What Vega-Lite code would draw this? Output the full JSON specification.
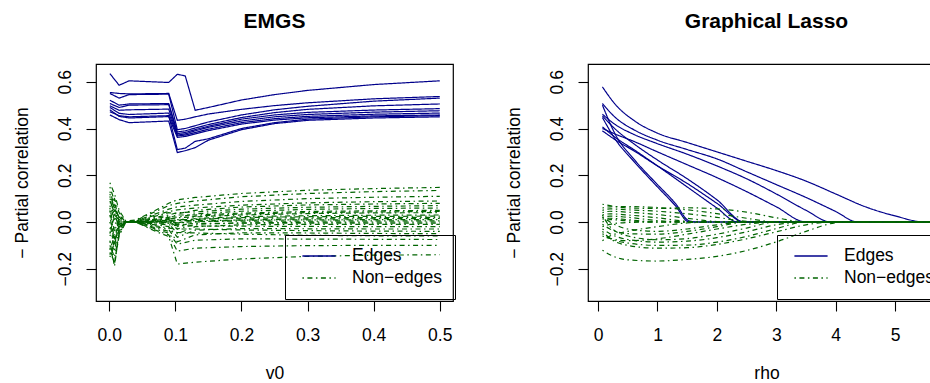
{
"$schema": "https://vega.github.io/schema/vega-lite/v6.json",
"background": "white",
"padding": {"left": 12, "top": 10, "right": 0, "bottom": 0},
"config": {
  "font": "Liberation Sans",
  "view": {"stroke": "black", "strokeWidth": 1.2},
  "axis": {"labelFont": "Liberation Sans", "titleFont": "Liberation Sans", "labelFontSize": 17.5, "titleFontSize": 17.5, "titleFontWeight": "normal", "labelColor": "black", "titleColor": "black", "tickColor": "black", "tickSize": 10, "tickWidth": 1.1, "domain": false, "grid": false, "labelFlush": false, "labelOverlap": false},
  "axisY": {"labelAngle": -90, "labelAlign": "center", "labelBaseline": "middle", "labelPadding": 21, "titlePadding": 25},
  "axisX": {"labelPadding": 15, "titlePadding": 21},
  "title": {"fontSize": 21, "fontWeight": "bold", "font": "Liberation Sans", "color": "black", "frame": "group", "baseline": "alphabetic", "offset": 32},
  "legend": {"orient": "none", "legendX": 189, "legendY": 171, "strokeColor": "black", "padding": 12, "symbolOffset": 13, "labelFont": "Liberation Sans", "labelFontSize": 17.5, "labelColor": "black", "symbolType": "M-2,0H2", "symbolSize": 275, "symbolStrokeWidth": 1.3, "labelOffset": 24, "rowPadding": 4},
  "concat": {"spacing": 47}
},
"datasets": {
"emgs": [
{"s":"E1","t":"Edges","x":0.001,"y":0.635},{"s":"E1","t":"Edges","x":0.015,"y":0.585},{"s":"E1","t":"Edges","x":0.03,"y":0.604},{"s":"E1","t":"Edges","x":0.09,"y":0.597},{"s":"E1","t":"Edges","x":0.103,"y":0.632},{"s":"E1","t":"Edges","x":0.115,"y":0.625},{"s":"E1","t":"Edges","x":0.13,"y":0.478},{"s":"E1","t":"Edges","x":0.15,"y":0.49},{"s":"E1","t":"Edges","x":0.2,"y":0.522},{"s":"E1","t":"Edges","x":0.25,"y":0.545},{"s":"E1","t":"Edges","x":0.3,"y":0.563},{"s":"E1","t":"Edges","x":0.4,"y":0.588},{"s":"E1","t":"Edges","x":0.5,"y":0.604},
{"s":"E2","t":"Edges","x":0.001,"y":0.554},{"s":"E2","t":"Edges","x":0.015,"y":0.55},{"s":"E2","t":"Edges","x":0.03,"y":0.548},{"s":"E2","t":"Edges","x":0.09,"y":0.55},{"s":"E2","t":"Edges","x":0.103,"y":0.435},{"s":"E2","t":"Edges","x":0.115,"y":0.44},{"s":"E2","t":"Edges","x":0.13,"y":0.45},{"s":"E2","t":"Edges","x":0.15,"y":0.462},{"s":"E2","t":"Edges","x":0.2,"y":0.482},{"s":"E2","t":"Edges","x":0.25,"y":0.498},{"s":"E2","t":"Edges","x":0.3,"y":0.51},{"s":"E2","t":"Edges","x":0.4,"y":0.527},{"s":"E2","t":"Edges","x":0.5,"y":0.537},
{"s":"E3","t":"Edges","x":0.001,"y":0.55},{"s":"E3","t":"Edges","x":0.015,"y":0.53},{"s":"E3","t":"Edges","x":0.03,"y":0.545},{"s":"E3","t":"Edges","x":0.09,"y":0.547},{"s":"E3","t":"Edges","x":0.103,"y":0.395},{"s":"E3","t":"Edges","x":0.115,"y":0.4},{"s":"E3","t":"Edges","x":0.13,"y":0.412},{"s":"E3","t":"Edges","x":0.15,"y":0.428},{"s":"E3","t":"Edges","x":0.2,"y":0.458},{"s":"E3","t":"Edges","x":0.25,"y":0.48},{"s":"E3","t":"Edges","x":0.3,"y":0.495},{"s":"E3","t":"Edges","x":0.4,"y":0.517},{"s":"E3","t":"Edges","x":0.5,"y":0.53},
{"s":"E4","t":"Edges","x":0.001,"y":0.521},{"s":"E4","t":"Edges","x":0.015,"y":0.5},{"s":"E4","t":"Edges","x":0.03,"y":0.505},{"s":"E4","t":"Edges","x":0.09,"y":0.507},{"s":"E4","t":"Edges","x":0.103,"y":0.385},{"s":"E4","t":"Edges","x":0.115,"y":0.39},{"s":"E4","t":"Edges","x":0.13,"y":0.402},{"s":"E4","t":"Edges","x":0.15,"y":0.417},{"s":"E4","t":"Edges","x":0.2,"y":0.447},{"s":"E4","t":"Edges","x":0.25,"y":0.468},{"s":"E4","t":"Edges","x":0.3,"y":0.482},{"s":"E4","t":"Edges","x":0.4,"y":0.497},{"s":"E4","t":"Edges","x":0.5,"y":0.505},
{"s":"E5","t":"Edges","x":0.001,"y":0.507},{"s":"E5","t":"Edges","x":0.015,"y":0.49},{"s":"E5","t":"Edges","x":0.03,"y":0.5},{"s":"E5","t":"Edges","x":0.09,"y":0.502},{"s":"E5","t":"Edges","x":0.103,"y":0.378},{"s":"E5","t":"Edges","x":0.115,"y":0.383},{"s":"E5","t":"Edges","x":0.13,"y":0.395},{"s":"E5","t":"Edges","x":0.15,"y":0.41},{"s":"E5","t":"Edges","x":0.2,"y":0.44},{"s":"E5","t":"Edges","x":0.25,"y":0.458},{"s":"E5","t":"Edges","x":0.3,"y":0.469},{"s":"E5","t":"Edges","x":0.4,"y":0.479},{"s":"E5","t":"Edges","x":0.5,"y":0.485},
{"s":"E6","t":"Edges","x":0.001,"y":0.497},{"s":"E6","t":"Edges","x":0.015,"y":0.478},{"s":"E6","t":"Edges","x":0.03,"y":0.48},{"s":"E6","t":"Edges","x":0.09,"y":0.483},{"s":"E6","t":"Edges","x":0.103,"y":0.372},{"s":"E6","t":"Edges","x":0.115,"y":0.377},{"s":"E6","t":"Edges","x":0.13,"y":0.39},{"s":"E6","t":"Edges","x":0.15,"y":0.405},{"s":"E6","t":"Edges","x":0.2,"y":0.432},{"s":"E6","t":"Edges","x":0.25,"y":0.45},{"s":"E6","t":"Edges","x":0.3,"y":0.46},{"s":"E6","t":"Edges","x":0.4,"y":0.47},{"s":"E6","t":"Edges","x":0.5,"y":0.476},
{"s":"E7","t":"Edges","x":0.001,"y":0.49},{"s":"E7","t":"Edges","x":0.015,"y":0.465},{"s":"E7","t":"Edges","x":0.03,"y":0.46},{"s":"E7","t":"Edges","x":0.09,"y":0.466},{"s":"E7","t":"Edges","x":0.103,"y":0.368},{"s":"E7","t":"Edges","x":0.115,"y":0.372},{"s":"E7","t":"Edges","x":0.13,"y":0.383},{"s":"E7","t":"Edges","x":0.15,"y":0.397},{"s":"E7","t":"Edges","x":0.2,"y":0.425},{"s":"E7","t":"Edges","x":0.25,"y":0.442},{"s":"E7","t":"Edges","x":0.3,"y":0.452},{"s":"E7","t":"Edges","x":0.4,"y":0.461},{"s":"E7","t":"Edges","x":0.5,"y":0.466},
{"s":"E8","t":"Edges","x":0.001,"y":0.48},{"s":"E8","t":"Edges","x":0.015,"y":0.452},{"s":"E8","t":"Edges","x":0.03,"y":0.445},{"s":"E8","t":"Edges","x":0.09,"y":0.451},{"s":"E8","t":"Edges","x":0.103,"y":0.362},{"s":"E8","t":"Edges","x":0.115,"y":0.366},{"s":"E8","t":"Edges","x":0.13,"y":0.377},{"s":"E8","t":"Edges","x":0.15,"y":0.391},{"s":"E8","t":"Edges","x":0.2,"y":0.419},{"s":"E8","t":"Edges","x":0.25,"y":0.436},{"s":"E8","t":"Edges","x":0.3,"y":0.446},{"s":"E8","t":"Edges","x":0.4,"y":0.454},{"s":"E8","t":"Edges","x":0.5,"y":0.458},
{"s":"E9","t":"Edges","x":0.001,"y":0.458},{"s":"E9","t":"Edges","x":0.015,"y":0.438},{"s":"E9","t":"Edges","x":0.03,"y":0.425},{"s":"E9","t":"Edges","x":0.09,"y":0.432},{"s":"E9","t":"Edges","x":0.103,"y":0.297},{"s":"E9","t":"Edges","x":0.115,"y":0.305},{"s":"E9","t":"Edges","x":0.13,"y":0.318},{"s":"E9","t":"Edges","x":0.15,"y":0.35},{"s":"E9","t":"Edges","x":0.2,"y":0.395},{"s":"E9","t":"Edges","x":0.25,"y":0.421},{"s":"E9","t":"Edges","x":0.3,"y":0.435},{"s":"E9","t":"Edges","x":0.4,"y":0.445},{"s":"E9","t":"Edges","x":0.5,"y":0.45},
{"s":"E10","t":"Edges","x":0.001,"y":0.472},{"s":"E10","t":"Edges","x":0.015,"y":0.455},{"s":"E10","t":"Edges","x":0.03,"y":0.45},{"s":"E10","t":"Edges","x":0.09,"y":0.455},{"s":"E10","t":"Edges","x":0.103,"y":0.31},{"s":"E10","t":"Edges","x":0.115,"y":0.316},{"s":"E10","t":"Edges","x":0.13,"y":0.345},{"s":"E10","t":"Edges","x":0.15,"y":0.356},{"s":"E10","t":"Edges","x":0.2,"y":0.4},{"s":"E10","t":"Edges","x":0.25,"y":0.425},{"s":"E10","t":"Edges","x":0.3,"y":0.44},{"s":"E10","t":"Edges","x":0.4,"y":0.45},{"s":"E10","t":"Edges","x":0.5,"y":0.455},
{"s":"N1","t":"Non−edges","x":0.001,"y":0.168},{"s":"N1","t":"Non−edges","x":0.008,"y":0.12},{"s":"N1","t":"Non−edges","x":0.015,"y":0.05},{"s":"N1","t":"Non−edges","x":0.025,"y":0.005},{"s":"N1","t":"Non−edges","x":0.04,"y":0.008},{"s":"N1","t":"Non−edges","x":0.07,"y":0.05},{"s":"N1","t":"Non−edges","x":0.09,"y":0.08},{"s":"N1","t":"Non−edges","x":0.103,"y":0.095},{"s":"N1","t":"Non−edges","x":0.13,"y":0.105},{"s":"N1","t":"Non−edges","x":0.2,"y":0.122},{"s":"N1","t":"Non−edges","x":0.3,"y":0.136},{"s":"N1","t":"Non−edges","x":0.4,"y":0.143},{"s":"N1","t":"Non−edges","x":0.5,"y":0.148},
{"s":"N2","t":"Non−edges","x":0.001,"y":-0.05},{"s":"N2","t":"Non−edges","x":0.008,"y":0.03},{"s":"N2","t":"Non−edges","x":0.015,"y":0.01},{"s":"N2","t":"Non−edges","x":0.025,"y":0.0},{"s":"N2","t":"Non−edges","x":0.04,"y":0.006},{"s":"N2","t":"Non−edges","x":0.07,"y":0.045},{"s":"N2","t":"Non−edges","x":0.09,"y":0.07},{"s":"N2","t":"Non−edges","x":0.103,"y":0.08},{"s":"N2","t":"Non−edges","x":0.13,"y":0.09},{"s":"N2","t":"Non−edges","x":0.2,"y":0.108},{"s":"N2","t":"Non−edges","x":0.3,"y":0.122},{"s":"N2","t":"Non−edges","x":0.4,"y":0.13},{"s":"N2","t":"Non−edges","x":0.5,"y":0.135},
{"s":"N3","t":"Non−edges","x":0.001,"y":0.1},{"s":"N3","t":"Non−edges","x":0.008,"y":0.06},{"s":"N3","t":"Non−edges","x":0.015,"y":0.02},{"s":"N3","t":"Non−edges","x":0.025,"y":0.0},{"s":"N3","t":"Non−edges","x":0.04,"y":0.004},{"s":"N3","t":"Non−edges","x":0.07,"y":0.035},{"s":"N3","t":"Non−edges","x":0.09,"y":0.055},{"s":"N3","t":"Non−edges","x":0.103,"y":0.065},{"s":"N3","t":"Non−edges","x":0.13,"y":0.072},{"s":"N3","t":"Non−edges","x":0.2,"y":0.088},{"s":"N3","t":"Non−edges","x":0.3,"y":0.1},{"s":"N3","t":"Non−edges","x":0.4,"y":0.106},{"s":"N3","t":"Non−edges","x":0.5,"y":0.11},
{"s":"N4","t":"Non−edges","x":0.001,"y":-0.12},{"s":"N4","t":"Non−edges","x":0.008,"y":-0.06},{"s":"N4","t":"Non−edges","x":0.015,"y":-0.01},{"s":"N4","t":"Non−edges","x":0.025,"y":0.0},{"s":"N4","t":"Non−edges","x":0.04,"y":0.003},{"s":"N4","t":"Non−edges","x":0.07,"y":0.03},{"s":"N4","t":"Non−edges","x":0.09,"y":0.045},{"s":"N4","t":"Non−edges","x":0.103,"y":0.052},{"s":"N4","t":"Non−edges","x":0.13,"y":0.06},{"s":"N4","t":"Non−edges","x":0.2,"y":0.072},{"s":"N4","t":"Non−edges","x":0.3,"y":0.082},{"s":"N4","t":"Non−edges","x":0.4,"y":0.087},{"s":"N4","t":"Non−edges","x":0.5,"y":0.09},
{"s":"N5","t":"Non−edges","x":0.001,"y":0.13},{"s":"N5","t":"Non−edges","x":0.008,"y":0.07},{"s":"N5","t":"Non−edges","x":0.015,"y":-0.02},{"s":"N5","t":"Non−edges","x":0.025,"y":0.0},{"s":"N5","t":"Non−edges","x":0.04,"y":0.002},{"s":"N5","t":"Non−edges","x":0.07,"y":0.025},{"s":"N5","t":"Non−edges","x":0.09,"y":0.04},{"s":"N5","t":"Non−edges","x":0.103,"y":0.035},{"s":"N5","t":"Non−edges","x":0.13,"y":0.05},{"s":"N5","t":"Non−edges","x":0.2,"y":0.064},{"s":"N5","t":"Non−edges","x":0.3,"y":0.073},{"s":"N5","t":"Non−edges","x":0.4,"y":0.077},{"s":"N5","t":"Non−edges","x":0.5,"y":0.08},
{"s":"N6","t":"Non−edges","x":0.001,"y":0.05},{"s":"N6","t":"Non−edges","x":0.008,"y":-0.08},{"s":"N6","t":"Non−edges","x":0.015,"y":-0.03},{"s":"N6","t":"Non−edges","x":0.025,"y":0.0},{"s":"N6","t":"Non−edges","x":0.04,"y":0.002},{"s":"N6","t":"Non−edges","x":0.07,"y":0.02},{"s":"N6","t":"Non−edges","x":0.09,"y":0.03},{"s":"N6","t":"Non−edges","x":0.103,"y":0.04},{"s":"N6","t":"Non−edges","x":0.13,"y":0.043},{"s":"N6","t":"Non−edges","x":0.2,"y":0.055},{"s":"N6","t":"Non−edges","x":0.3,"y":0.063},{"s":"N6","t":"Non−edges","x":0.4,"y":0.067},{"s":"N6","t":"Non−edges","x":0.5,"y":0.07},
{"s":"N7","t":"Non−edges","x":0.001,"y":-0.15},{"s":"N7","t":"Non−edges","x":0.008,"y":-0.1},{"s":"N7","t":"Non−edges","x":0.015,"y":0.03},{"s":"N7","t":"Non−edges","x":0.025,"y":0.0},{"s":"N7","t":"Non−edges","x":0.04,"y":0.0},{"s":"N7","t":"Non−edges","x":0.07,"y":0.015},{"s":"N7","t":"Non−edges","x":0.09,"y":0.025},{"s":"N7","t":"Non−edges","x":0.103,"y":0.02},{"s":"N7","t":"Non−edges","x":0.13,"y":0.035},{"s":"N7","t":"Non−edges","x":0.2,"y":0.046},{"s":"N7","t":"Non−edges","x":0.3,"y":0.054},{"s":"N7","t":"Non−edges","x":0.4,"y":0.058},{"s":"N7","t":"Non−edges","x":0.5,"y":0.06},
{"s":"N8","t":"Non−edges","x":0.001,"y":0.08},{"s":"N8","t":"Non−edges","x":0.008,"y":0.1},{"s":"N8","t":"Non−edges","x":0.015,"y":0.04},{"s":"N8","t":"Non−edges","x":0.025,"y":0.002},{"s":"N8","t":"Non−edges","x":0.04,"y":0.0},{"s":"N8","t":"Non−edges","x":0.07,"y":0.012},{"s":"N8","t":"Non−edges","x":0.09,"y":0.02},{"s":"N8","t":"Non−edges","x":0.103,"y":0.03},{"s":"N8","t":"Non−edges","x":0.13,"y":0.03},{"s":"N8","t":"Non−edges","x":0.2,"y":0.038},{"s":"N8","t":"Non−edges","x":0.3,"y":0.045},{"s":"N8","t":"Non−edges","x":0.4,"y":0.048},{"s":"N8","t":"Non−edges","x":0.5,"y":0.05},
{"s":"N9","t":"Non−edges","x":0.001,"y":-0.08},{"s":"N9","t":"Non−edges","x":0.008,"y":-0.19},{"s":"N9","t":"Non−edges","x":0.015,"y":-0.04},{"s":"N9","t":"Non−edges","x":0.025,"y":0.0},{"s":"N9","t":"Non−edges","x":0.04,"y":0.0},{"s":"N9","t":"Non−edges","x":0.07,"y":0.01},{"s":"N9","t":"Non−edges","x":0.09,"y":0.015},{"s":"N9","t":"Non−edges","x":0.103,"y":0.005},{"s":"N9","t":"Non−edges","x":0.13,"y":0.025},{"s":"N9","t":"Non−edges","x":0.2,"y":0.034},{"s":"N9","t":"Non−edges","x":0.3,"y":0.04},{"s":"N9","t":"Non−edges","x":0.4,"y":0.043},{"s":"N9","t":"Non−edges","x":0.5,"y":0.045},
{"s":"N10","t":"Non−edges","x":0.001,"y":0.02},{"s":"N10","t":"Non−edges","x":0.008,"y":0.05},{"s":"N10","t":"Non−edges","x":0.015,"y":0.0},{"s":"N10","t":"Non−edges","x":0.025,"y":0.0},{"s":"N10","t":"Non−edges","x":0.04,"y":0.001},{"s":"N10","t":"Non−edges","x":0.07,"y":0.008},{"s":"N10","t":"Non−edges","x":0.09,"y":0.012},{"s":"N10","t":"Non−edges","x":0.103,"y":0.018},{"s":"N10","t":"Non−edges","x":0.13,"y":0.022},{"s":"N10","t":"Non−edges","x":0.2,"y":0.03},{"s":"N10","t":"Non−edges","x":0.3,"y":0.036},{"s":"N10","t":"Non−edges","x":0.4,"y":0.039},{"s":"N10","t":"Non−edges","x":0.5,"y":0.04},
{"s":"N11","t":"Non−edges","x":0.001,"y":0.06},{"s":"N11","t":"Non−edges","x":0.008,"y":-0.04},{"s":"N11","t":"Non−edges","x":0.015,"y":0.02},{"s":"N11","t":"Non−edges","x":0.025,"y":0.0},{"s":"N11","t":"Non−edges","x":0.04,"y":0.0},{"s":"N11","t":"Non−edges","x":0.07,"y":0.006},{"s":"N11","t":"Non−edges","x":0.09,"y":0.01},{"s":"N11","t":"Non−edges","x":0.103,"y":-0.005},{"s":"N11","t":"Non−edges","x":0.13,"y":0.015},{"s":"N11","t":"Non−edges","x":0.2,"y":0.023},{"s":"N11","t":"Non−edges","x":0.3,"y":0.027},{"s":"N11","t":"Non−edges","x":0.4,"y":0.029},{"s":"N11","t":"Non−edges","x":0.5,"y":0.03},
{"s":"N12","t":"Non−edges","x":0.001,"y":-0.1},{"s":"N12","t":"Non−edges","x":0.008,"y":-0.15},{"s":"N12","t":"Non−edges","x":0.015,"y":-0.05},{"s":"N12","t":"Non−edges","x":0.025,"y":0.0},{"s":"N12","t":"Non−edges","x":0.04,"y":0.0},{"s":"N12","t":"Non−edges","x":0.07,"y":0.004},{"s":"N12","t":"Non−edges","x":0.09,"y":0.008},{"s":"N12","t":"Non−edges","x":0.103,"y":-0.01},{"s":"N12","t":"Non−edges","x":0.13,"y":0.012},{"s":"N12","t":"Non−edges","x":0.2,"y":0.019},{"s":"N12","t":"Non−edges","x":0.3,"y":0.023},{"s":"N12","t":"Non−edges","x":0.4,"y":0.024},{"s":"N12","t":"Non−edges","x":0.5,"y":0.025},
{"s":"N13","t":"Non−edges","x":0.001,"y":0.15},{"s":"N13","t":"Non−edges","x":0.008,"y":0.09},{"s":"N13","t":"Non−edges","x":0.015,"y":0.0},{"s":"N13","t":"Non−edges","x":0.025,"y":0.0},{"s":"N13","t":"Non−edges","x":0.04,"y":0.0},{"s":"N13","t":"Non−edges","x":0.07,"y":0.003},{"s":"N13","t":"Non−edges","x":0.09,"y":0.005},{"s":"N13","t":"Non−edges","x":0.103,"y":0.01},{"s":"N13","t":"Non−edges","x":0.13,"y":0.011},{"s":"N13","t":"Non−edges","x":0.2,"y":0.016},{"s":"N13","t":"Non−edges","x":0.3,"y":0.018},{"s":"N13","t":"Non−edges","x":0.4,"y":0.019},{"s":"N13","t":"Non−edges","x":0.5,"y":0.02},
{"s":"N14","t":"Non−edges","x":0.001,"y":-0.03},{"s":"N14","t":"Non−edges","x":0.008,"y":0.02},{"s":"N14","t":"Non−edges","x":0.015,"y":-0.01},{"s":"N14","t":"Non−edges","x":0.025,"y":0.0},{"s":"N14","t":"Non−edges","x":0.04,"y":0.0},{"s":"N14","t":"Non−edges","x":0.07,"y":0.002},{"s":"N14","t":"Non−edges","x":0.09,"y":0.004},{"s":"N14","t":"Non−edges","x":0.103,"y":-0.02},{"s":"N14","t":"Non−edges","x":0.13,"y":0.0},{"s":"N14","t":"Non−edges","x":0.2,"y":0.009},{"s":"N14","t":"Non−edges","x":0.3,"y":0.013},{"s":"N14","t":"Non−edges","x":0.4,"y":0.014},{"s":"N14","t":"Non−edges","x":0.5,"y":0.015},
{"s":"N15","t":"Non−edges","x":0.001,"y":0.11},{"s":"N15","t":"Non−edges","x":0.008,"y":0.0},{"s":"N15","t":"Non−edges","x":0.015,"y":-0.02},{"s":"N15","t":"Non−edges","x":0.025,"y":0.0},{"s":"N15","t":"Non−edges","x":0.04,"y":0.0},{"s":"N15","t":"Non−edges","x":0.07,"y":0.001},{"s":"N15","t":"Non−edges","x":0.09,"y":0.002},{"s":"N15","t":"Non−edges","x":0.103,"y":0.006},{"s":"N15","t":"Non−edges","x":0.13,"y":0.006},{"s":"N15","t":"Non−edges","x":0.2,"y":0.008},{"s":"N15","t":"Non−edges","x":0.3,"y":0.009},{"s":"N15","t":"Non−edges","x":0.4,"y":0.01},{"s":"N15","t":"Non−edges","x":0.5,"y":0.01},
{"s":"N16","t":"Non−edges","x":0.001,"y":-0.13},{"s":"N16","t":"Non−edges","x":0.008,"y":-0.17},{"s":"N16","t":"Non−edges","x":0.015,"y":-0.06},{"s":"N16","t":"Non−edges","x":0.025,"y":0.0},{"s":"N16","t":"Non−edges","x":0.04,"y":0.0},{"s":"N16","t":"Non−edges","x":0.07,"y":0.0},{"s":"N16","t":"Non−edges","x":0.09,"y":0.001},{"s":"N16","t":"Non−edges","x":0.103,"y":-0.004},{"s":"N16","t":"Non−edges","x":0.13,"y":0.002},{"s":"N16","t":"Non−edges","x":0.2,"y":0.004},{"s":"N16","t":"Non−edges","x":0.3,"y":0.004},{"s":"N16","t":"Non−edges","x":0.4,"y":0.005},{"s":"N16","t":"Non−edges","x":0.5,"y":0.005},
{"s":"N17","t":"Non−edges","x":0.001,"y":0.04},{"s":"N17","t":"Non−edges","x":0.008,"y":0.08},{"s":"N17","t":"Non−edges","x":0.015,"y":0.01},{"s":"N17","t":"Non−edges","x":0.025,"y":0.0},{"s":"N17","t":"Non−edges","x":0.04,"y":0.0},{"s":"N17","t":"Non−edges","x":0.07,"y":0.0},{"s":"N17","t":"Non−edges","x":0.09,"y":0.0},{"s":"N17","t":"Non−edges","x":0.103,"y":-0.03},{"s":"N17","t":"Non−edges","x":0.13,"y":-0.01},{"s":"N17","t":"Non−edges","x":0.2,"y":-0.004},{"s":"N17","t":"Non−edges","x":0.3,"y":-0.001},{"s":"N17","t":"Non−edges","x":0.4,"y":0.0},{"s":"N17","t":"Non−edges","x":0.5,"y":0.0},
{"s":"N18","t":"Non−edges","x":0.001,"y":-0.06},{"s":"N18","t":"Non−edges","x":0.008,"y":-0.02},{"s":"N18","t":"Non−edges","x":0.015,"y":0.0},{"s":"N18","t":"Non−edges","x":0.025,"y":0.0},{"s":"N18","t":"Non−edges","x":0.04,"y":0.0},{"s":"N18","t":"Non−edges","x":0.07,"y":-0.002},{"s":"N18","t":"Non−edges","x":0.09,"y":-0.003},{"s":"N18","t":"Non−edges","x":0.103,"y":-0.012},{"s":"N18","t":"Non−edges","x":0.13,"y":-0.006},{"s":"N18","t":"Non−edges","x":0.2,"y":-0.005},{"s":"N18","t":"Non−edges","x":0.3,"y":-0.005},{"s":"N18","t":"Non−edges","x":0.4,"y":-0.005},{"s":"N18","t":"Non−edges","x":0.5,"y":-0.005},
{"s":"N19","t":"Non−edges","x":0.001,"y":0.09},{"s":"N19","t":"Non−edges","x":0.008,"y":0.04},{"s":"N19","t":"Non−edges","x":0.015,"y":-0.03},{"s":"N19","t":"Non−edges","x":0.025,"y":0.0},{"s":"N19","t":"Non−edges","x":0.04,"y":0.0},{"s":"N19","t":"Non−edges","x":0.07,"y":-0.004},{"s":"N19","t":"Non−edges","x":0.09,"y":-0.006},{"s":"N19","t":"Non−edges","x":0.103,"y":-0.05},{"s":"N19","t":"Non−edges","x":0.13,"y":-0.02},{"s":"N19","t":"Non−edges","x":0.2,"y":-0.012},{"s":"N19","t":"Non−edges","x":0.3,"y":-0.01},{"s":"N19","t":"Non−edges","x":0.4,"y":-0.01},{"s":"N19","t":"Non−edges","x":0.5,"y":-0.01},
{"s":"N20","t":"Non−edges","x":0.001,"y":-0.14},{"s":"N20","t":"Non−edges","x":0.008,"y":-0.09},{"s":"N20","t":"Non−edges","x":0.015,"y":-0.02},{"s":"N20","t":"Non−edges","x":0.025,"y":0.0},{"s":"N20","t":"Non−edges","x":0.04,"y":0.0},{"s":"N20","t":"Non−edges","x":0.07,"y":-0.008},{"s":"N20","t":"Non−edges","x":0.09,"y":-0.012},{"s":"N20","t":"Non−edges","x":0.103,"y":-0.016},{"s":"N20","t":"Non−edges","x":0.13,"y":-0.017},{"s":"N20","t":"Non−edges","x":0.2,"y":-0.018},{"s":"N20","t":"Non−edges","x":0.3,"y":-0.019},{"s":"N20","t":"Non−edges","x":0.4,"y":-0.02},{"s":"N20","t":"Non−edges","x":0.5,"y":-0.02},
{"s":"N21","t":"Non−edges","x":0.001,"y":0.0},{"s":"N21","t":"Non−edges","x":0.008,"y":-0.12},{"s":"N21","t":"Non−edges","x":0.015,"y":-0.03},{"s":"N21","t":"Non−edges","x":0.025,"y":0.0},{"s":"N21","t":"Non−edges","x":0.04,"y":0.0},{"s":"N21","t":"Non−edges","x":0.07,"y":-0.012},{"s":"N21","t":"Non−edges","x":0.09,"y":-0.02},{"s":"N21","t":"Non−edges","x":0.103,"y":-0.065},{"s":"N21","t":"Non−edges","x":0.13,"y":-0.035},{"s":"N21","t":"Non−edges","x":0.2,"y":-0.028},{"s":"N21","t":"Non−edges","x":0.3,"y":-0.029},{"s":"N21","t":"Non−edges","x":0.4,"y":-0.03},{"s":"N21","t":"Non−edges","x":0.5,"y":-0.03},
{"s":"N22","t":"Non−edges","x":0.001,"y":-0.09},{"s":"N22","t":"Non−edges","x":0.008,"y":-0.05},{"s":"N22","t":"Non−edges","x":0.015,"y":0.0},{"s":"N22","t":"Non−edges","x":0.025,"y":0.0},{"s":"N22","t":"Non−edges","x":0.04,"y":0.0},{"s":"N22","t":"Non−edges","x":0.07,"y":-0.016},{"s":"N22","t":"Non−edges","x":0.09,"y":-0.026},{"s":"N22","t":"Non−edges","x":0.103,"y":-0.03},{"s":"N22","t":"Non−edges","x":0.13,"y":-0.03},{"s":"N22","t":"Non−edges","x":0.2,"y":-0.034},{"s":"N22","t":"Non−edges","x":0.3,"y":-0.037},{"s":"N22","t":"Non−edges","x":0.4,"y":-0.039},{"s":"N22","t":"Non−edges","x":0.5,"y":-0.04},
{"s":"N23","t":"Non−edges","x":0.001,"y":0.07},{"s":"N23","t":"Non−edges","x":0.008,"y":0.01},{"s":"N23","t":"Non−edges","x":0.015,"y":-0.01},{"s":"N23","t":"Non−edges","x":0.025,"y":0.0},{"s":"N23","t":"Non−edges","x":0.04,"y":0.0},{"s":"N23","t":"Non−edges","x":0.07,"y":-0.02},{"s":"N23","t":"Non−edges","x":0.09,"y":-0.032},{"s":"N23","t":"Non−edges","x":0.103,"y":-0.085},{"s":"N23","t":"Non−edges","x":0.13,"y":-0.055},{"s":"N23","t":"Non−edges","x":0.2,"y":-0.046},{"s":"N23","t":"Non−edges","x":0.3,"y":-0.047},{"s":"N23","t":"Non−edges","x":0.4,"y":-0.049},{"s":"N23","t":"Non−edges","x":0.5,"y":-0.05},
{"s":"N24","t":"Non−edges","x":0.001,"y":-0.11},{"s":"N24","t":"Non−edges","x":0.008,"y":-0.18},{"s":"N24","t":"Non−edges","x":0.015,"y":-0.05},{"s":"N24","t":"Non−edges","x":0.025,"y":0.0},{"s":"N24","t":"Non−edges","x":0.04,"y":0.0},{"s":"N24","t":"Non−edges","x":0.07,"y":-0.025},{"s":"N24","t":"Non−edges","x":0.09,"y":-0.04},{"s":"N24","t":"Non−edges","x":0.103,"y":-0.045},{"s":"N24","t":"Non−edges","x":0.13,"y":-0.047},{"s":"N24","t":"Non−edges","x":0.2,"y":-0.052},{"s":"N24","t":"Non−edges","x":0.3,"y":-0.057},{"s":"N24","t":"Non−edges","x":0.4,"y":-0.059},{"s":"N24","t":"Non−edges","x":0.5,"y":-0.06},
{"s":"N25","t":"Non−edges","x":0.001,"y":0.12},{"s":"N25","t":"Non−edges","x":0.008,"y":0.06},{"s":"N25","t":"Non−edges","x":0.015,"y":0.02},{"s":"N25","t":"Non−edges","x":0.025,"y":0.0},{"s":"N25","t":"Non−edges","x":0.04,"y":0.0},{"s":"N25","t":"Non−edges","x":0.07,"y":-0.03},{"s":"N25","t":"Non−edges","x":0.09,"y":-0.048},{"s":"N25","t":"Non−edges","x":0.103,"y":-0.095},{"s":"N25","t":"Non−edges","x":0.13,"y":-0.078},{"s":"N25","t":"Non−edges","x":0.2,"y":-0.072},{"s":"N25","t":"Non−edges","x":0.3,"y":-0.073},{"s":"N25","t":"Non−edges","x":0.4,"y":-0.074},{"s":"N25","t":"Non−edges","x":0.5,"y":-0.075},
{"s":"N26","t":"Non−edges","x":0.001,"y":-0.04},{"s":"N26","t":"Non−edges","x":0.008,"y":-0.07},{"s":"N26","t":"Non−edges","x":0.015,"y":-0.02},{"s":"N26","t":"Non−edges","x":0.025,"y":0.0},{"s":"N26","t":"Non−edges","x":0.04,"y":0.0},{"s":"N26","t":"Non−edges","x":0.07,"y":-0.035},{"s":"N26","t":"Non−edges","x":0.09,"y":-0.055},{"s":"N26","t":"Non−edges","x":0.103,"y":-0.125},{"s":"N26","t":"Non−edges","x":0.13,"y":-0.112},{"s":"N26","t":"Non−edges","x":0.2,"y":-0.105},{"s":"N26","t":"Non−edges","x":0.3,"y":-0.101},{"s":"N26","t":"Non−edges","x":0.4,"y":-0.1},{"s":"N26","t":"Non−edges","x":0.5,"y":-0.1},
{"s":"N27","t":"Non−edges","x":0.001,"y":0.03},{"s":"N27","t":"Non−edges","x":0.008,"y":-0.1},{"s":"N27","t":"Non−edges","x":0.015,"y":-0.01},{"s":"N27","t":"Non−edges","x":0.025,"y":0.0},{"s":"N27","t":"Non−edges","x":0.04,"y":0.0},{"s":"N27","t":"Non−edges","x":0.07,"y":-0.04},{"s":"N27","t":"Non−edges","x":0.09,"y":-0.062},{"s":"N27","t":"Non−edges","x":0.103,"y":-0.18},{"s":"N27","t":"Non−edges","x":0.13,"y":-0.172},{"s":"N27","t":"Non−edges","x":0.2,"y":-0.158},{"s":"N27","t":"Non−edges","x":0.3,"y":-0.147},{"s":"N27","t":"Non−edges","x":0.4,"y":-0.142},{"s":"N27","t":"Non−edges","x":0.5,"y":-0.14}
],
"glasso": [
{"s":"G1","t":"Edges","x":0.073,"y":0.578},{"s":"G1","t":"Edges","x":0.3,"y":0.5},{"s":"G1","t":"Edges","x":0.6,"y":0.435},{"s":"G1","t":"Edges","x":1.0,"y":0.38},{"s":"G1","t":"Edges","x":1.5,"y":0.34},{"s":"G1","t":"Edges","x":2.0,"y":0.3},{"s":"G1","t":"Edges","x":2.5,"y":0.26},{"s":"G1","t":"Edges","x":3.0,"y":0.22},{"s":"G1","t":"Edges","x":3.5,"y":0.175},{"s":"G1","t":"Edges","x":4.0,"y":0.12},{"s":"G1","t":"Edges","x":4.5,"y":0.065},{"s":"G1","t":"Edges","x":5.0,"y":0.026},{"s":"G1","t":"Edges","x":5.5,"y":0.0},{"s":"G1","t":"Edges","x":5.63,"y":0.0},
{"s":"G2","t":"Edges","x":0.073,"y":0.507},{"s":"G2","t":"Edges","x":0.3,"y":0.445},{"s":"G2","t":"Edges","x":0.6,"y":0.395},{"s":"G2","t":"Edges","x":1.0,"y":0.35},{"s":"G2","t":"Edges","x":1.5,"y":0.31},{"s":"G2","t":"Edges","x":2.0,"y":0.27},{"s":"G2","t":"Edges","x":2.5,"y":0.215},{"s":"G2","t":"Edges","x":3.0,"y":0.16},{"s":"G2","t":"Edges","x":3.5,"y":0.105},{"s":"G2","t":"Edges","x":4.0,"y":0.045},{"s":"G2","t":"Edges","x":4.37,"y":0.0},{"s":"G2","t":"Edges","x":5.63,"y":0.0},
{"s":"G3","t":"Edges","x":0.073,"y":0.461},{"s":"G3","t":"Edges","x":0.3,"y":0.415},{"s":"G3","t":"Edges","x":0.6,"y":0.375},{"s":"G3","t":"Edges","x":1.0,"y":0.335},{"s":"G3","t":"Edges","x":1.5,"y":0.29},{"s":"G3","t":"Edges","x":2.0,"y":0.24},{"s":"G3","t":"Edges","x":2.5,"y":0.185},{"s":"G3","t":"Edges","x":3.0,"y":0.12},{"s":"G3","t":"Edges","x":3.5,"y":0.05},{"s":"G3","t":"Edges","x":3.92,"y":0.0},{"s":"G3","t":"Edges","x":5.63,"y":0.0},
{"s":"G4","t":"Edges","x":0.073,"y":0.4},{"s":"G4","t":"Edges","x":0.3,"y":0.375},{"s":"G4","t":"Edges","x":0.6,"y":0.345},{"s":"G4","t":"Edges","x":1.0,"y":0.3},{"s":"G4","t":"Edges","x":1.5,"y":0.245},{"s":"G4","t":"Edges","x":2.0,"y":0.19},{"s":"G4","t":"Edges","x":2.5,"y":0.13},{"s":"G4","t":"Edges","x":3.0,"y":0.065},{"s":"G4","t":"Edges","x":3.5,"y":0.0},{"s":"G4","t":"Edges","x":5.63,"y":0.0},
{"s":"G5","t":"Edges","x":0.073,"y":0.454},{"s":"G5","t":"Edges","x":0.3,"y":0.395},{"s":"G5","t":"Edges","x":0.6,"y":0.335},{"s":"G5","t":"Edges","x":1.0,"y":0.265},{"s":"G5","t":"Edges","x":1.5,"y":0.185},{"s":"G5","t":"Edges","x":2.0,"y":0.095},{"s":"G5","t":"Edges","x":2.46,"y":0.0},{"s":"G5","t":"Edges","x":5.63,"y":0.0},
{"s":"G6","t":"Edges","x":0.073,"y":0.39},{"s":"G6","t":"Edges","x":0.3,"y":0.35},{"s":"G6","t":"Edges","x":0.6,"y":0.305},{"s":"G6","t":"Edges","x":1.0,"y":0.24},{"s":"G6","t":"Edges","x":1.5,"y":0.165},{"s":"G6","t":"Edges","x":2.0,"y":0.08},{"s":"G6","t":"Edges","x":2.46,"y":0.0},{"s":"G6","t":"Edges","x":5.63,"y":0.0},
{"s":"G7","t":"Edges","x":0.073,"y":0.447},{"s":"G7","t":"Edges","x":0.3,"y":0.35},{"s":"G7","t":"Edges","x":0.6,"y":0.26},{"s":"G7","t":"Edges","x":1.0,"y":0.15},{"s":"G7","t":"Edges","x":1.3,"y":0.07},{"s":"G7","t":"Edges","x":1.53,"y":0.0},{"s":"G7","t":"Edges","x":5.63,"y":0.0},
{"s":"G8","t":"Edges","x":0.073,"y":0.5},{"s":"G8","t":"Edges","x":0.3,"y":0.37},{"s":"G8","t":"Edges","x":0.6,"y":0.27},{"s":"G8","t":"Edges","x":1.0,"y":0.16},{"s":"G8","t":"Edges","x":1.3,"y":0.08},{"s":"G8","t":"Edges","x":1.53,"y":0.005},{"s":"G8","t":"Edges","x":1.65,"y":0.0},{"s":"G8","t":"Edges","x":5.63,"y":0.0},
{"s":"G9","t":"Edges","x":0.073,"y":0.407},{"s":"G9","t":"Edges","x":0.3,"y":0.36},{"s":"G9","t":"Edges","x":0.6,"y":0.31},{"s":"G9","t":"Edges","x":1.0,"y":0.24},{"s":"G9","t":"Edges","x":1.5,"y":0.15},{"s":"G9","t":"Edges","x":2.0,"y":0.06},{"s":"G9","t":"Edges","x":2.35,"y":0.0},{"s":"G9","t":"Edges","x":5.63,"y":0.0},
{"s":"P1","t":"Non−edges","x":0.073,"y":0.076},{"s":"P1","t":"Non−edges","x":0.2,"y":0.07},{"s":"P1","t":"Non−edges","x":0.5,"y":0.06},{"s":"P1","t":"Non−edges","x":1.0,"y":0.058},{"s":"P1","t":"Non−edges","x":1.5,"y":0.061},{"s":"P1","t":"Non−edges","x":2.0,"y":0.056},{"s":"P1","t":"Non−edges","x":2.5,"y":0.042},{"s":"P1","t":"Non−edges","x":3.0,"y":0.018},{"s":"P1","t":"Non−edges","x":3.5,"y":0.0},{"s":"P1","t":"Non−edges","x":5.63,"y":0.0},
{"s":"P2","t":"Non−edges","x":0.073,"y":0.06},{"s":"P2","t":"Non−edges","x":0.2,"y":0.065},{"s":"P2","t":"Non−edges","x":0.5,"y":0.066},{"s":"P2","t":"Non−edges","x":1.0,"y":0.062},{"s":"P2","t":"Non−edges","x":1.5,"y":0.052},{"s":"P2","t":"Non−edges","x":2.0,"y":0.036},{"s":"P2","t":"Non−edges","x":2.5,"y":0.016},{"s":"P2","t":"Non−edges","x":3.0,"y":0.0},{"s":"P2","t":"Non−edges","x":5.63,"y":0.0},
{"s":"P3","t":"Non−edges","x":0.073,"y":0.05},{"s":"P3","t":"Non−edges","x":0.2,"y":0.056},{"s":"P3","t":"Non−edges","x":0.5,"y":0.052},{"s":"P3","t":"Non−edges","x":1.0,"y":0.046},{"s":"P3","t":"Non−edges","x":1.5,"y":0.035},{"s":"P3","t":"Non−edges","x":2.0,"y":0.02},{"s":"P3","t":"Non−edges","x":2.5,"y":0.003},{"s":"P3","t":"Non−edges","x":3.0,"y":0.0},{"s":"P3","t":"Non−edges","x":5.63,"y":0.0},
{"s":"P4","t":"Non−edges","x":0.073,"y":0.04},{"s":"P4","t":"Non−edges","x":0.2,"y":0.046},{"s":"P4","t":"Non−edges","x":0.5,"y":0.042},{"s":"P4","t":"Non−edges","x":1.0,"y":0.032},{"s":"P4","t":"Non−edges","x":1.5,"y":0.016},{"s":"P4","t":"Non−edges","x":2.0,"y":0.002},{"s":"P4","t":"Non−edges","x":2.5,"y":0.0},{"s":"P4","t":"Non−edges","x":5.63,"y":0.0},
{"s":"P5","t":"Non−edges","x":0.073,"y":0.03},{"s":"P5","t":"Non−edges","x":0.2,"y":0.035},{"s":"P5","t":"Non−edges","x":0.5,"y":0.03},{"s":"P5","t":"Non−edges","x":1.0,"y":0.018},{"s":"P5","t":"Non−edges","x":1.5,"y":0.003},{"s":"P5","t":"Non−edges","x":2.0,"y":0.0},{"s":"P5","t":"Non−edges","x":5.63,"y":0.0},
{"s":"P6","t":"Non−edges","x":0.073,"y":0.02},{"s":"P6","t":"Non−edges","x":0.2,"y":0.025},{"s":"P6","t":"Non−edges","x":0.5,"y":0.02},{"s":"P6","t":"Non−edges","x":1.0,"y":0.006},{"s":"P6","t":"Non−edges","x":1.5,"y":0.0},{"s":"P6","t":"Non−edges","x":5.63,"y":0.0},
{"s":"P7","t":"Non−edges","x":0.073,"y":0.012},{"s":"P7","t":"Non−edges","x":0.2,"y":0.016},{"s":"P7","t":"Non−edges","x":0.5,"y":0.01},{"s":"P7","t":"Non−edges","x":1.0,"y":0.0},{"s":"P7","t":"Non−edges","x":5.63,"y":0.0},
{"s":"Z1","t":"Non−edges","x":0.073,"y":0.0},{"s":"Z1","t":"Non−edges","x":0.2,"y":0.01},{"s":"Z1","t":"Non−edges","x":0.5,"y":0.005},{"s":"Z1","t":"Non−edges","x":1.0,"y":0.0},{"s":"Z1","t":"Non−edges","x":5.63,"y":0.0},
{"s":"Z2","t":"Non−edges","x":0.073,"y":-0.02},{"s":"Z2","t":"Non−edges","x":0.2,"y":-0.01},{"s":"Z2","t":"Non−edges","x":0.5,"y":-0.002},{"s":"Z2","t":"Non−edges","x":1.0,"y":0.0},{"s":"Z2","t":"Non−edges","x":5.63,"y":0.0},
{"s":"M1","t":"Non−edges","x":0.073,"y":-0.121},{"s":"M1","t":"Non−edges","x":0.2,"y":-0.14},{"s":"M1","t":"Non−edges","x":0.5,"y":-0.162},{"s":"M1","t":"Non−edges","x":1.0,"y":-0.167},{"s":"M1","t":"Non−edges","x":1.5,"y":-0.16},{"s":"M1","t":"Non−edges","x":2.0,"y":-0.147},{"s":"M1","t":"Non−edges","x":2.5,"y":-0.122},{"s":"M1","t":"Non−edges","x":3.0,"y":-0.085},{"s":"M1","t":"Non−edges","x":3.5,"y":-0.04},{"s":"M1","t":"Non−edges","x":4.0,"y":-0.003},{"s":"M1","t":"Non−edges","x":4.2,"y":0.0},{"s":"M1","t":"Non−edges","x":5.63,"y":0.0},
{"s":"M2","t":"Non−edges","x":0.073,"y":-0.04},{"s":"M2","t":"Non−edges","x":0.2,"y":-0.07},{"s":"M2","t":"Non−edges","x":0.5,"y":-0.1},{"s":"M2","t":"Non−edges","x":1.0,"y":-0.112},{"s":"M2","t":"Non−edges","x":1.5,"y":-0.11},{"s":"M2","t":"Non−edges","x":2.0,"y":-0.096},{"s":"M2","t":"Non−edges","x":2.5,"y":-0.072},{"s":"M2","t":"Non−edges","x":3.0,"y":-0.042},{"s":"M2","t":"Non−edges","x":3.5,"y":-0.012},{"s":"M2","t":"Non−edges","x":4.0,"y":0.0},{"s":"M2","t":"Non−edges","x":5.63,"y":0.0},
{"s":"M3","t":"Non−edges","x":0.073,"y":-0.05},{"s":"M3","t":"Non−edges","x":0.2,"y":-0.07},{"s":"M3","t":"Non−edges","x":0.5,"y":-0.09},{"s":"M3","t":"Non−edges","x":1.0,"y":-0.1},{"s":"M3","t":"Non−edges","x":1.5,"y":-0.099},{"s":"M3","t":"Non−edges","x":2.0,"y":-0.086},{"s":"M3","t":"Non−edges","x":2.5,"y":-0.062},{"s":"M3","t":"Non−edges","x":3.0,"y":-0.028},{"s":"M3","t":"Non−edges","x":3.5,"y":0.0},{"s":"M3","t":"Non−edges","x":5.63,"y":0.0},
{"s":"M4","t":"Non−edges","x":0.073,"y":-0.03},{"s":"M4","t":"Non−edges","x":0.2,"y":-0.05},{"s":"M4","t":"Non−edges","x":0.5,"y":-0.075},{"s":"M4","t":"Non−edges","x":1.0,"y":-0.086},{"s":"M4","t":"Non−edges","x":1.5,"y":-0.082},{"s":"M4","t":"Non−edges","x":2.0,"y":-0.067},{"s":"M4","t":"Non−edges","x":2.5,"y":-0.042},{"s":"M4","t":"Non−edges","x":3.0,"y":-0.012},{"s":"M4","t":"Non−edges","x":3.5,"y":0.0},{"s":"M4","t":"Non−edges","x":5.63,"y":0.0},
{"s":"M5","t":"Non−edges","x":0.073,"y":0.03},{"s":"M5","t":"Non−edges","x":0.2,"y":-0.02},{"s":"M5","t":"Non−edges","x":0.5,"y":-0.06},{"s":"M5","t":"Non−edges","x":1.0,"y":-0.076},{"s":"M5","t":"Non−edges","x":1.5,"y":-0.071},{"s":"M5","t":"Non−edges","x":2.0,"y":-0.052},{"s":"M5","t":"Non−edges","x":2.5,"y":-0.026},{"s":"M5","t":"Non−edges","x":3.0,"y":0.0},{"s":"M5","t":"Non−edges","x":5.63,"y":0.0},
{"s":"M6","t":"Non−edges","x":0.073,"y":-0.06},{"s":"M6","t":"Non−edges","x":0.2,"y":-0.07},{"s":"M6","t":"Non−edges","x":0.5,"y":-0.08},{"s":"M6","t":"Non−edges","x":1.0,"y":-0.072},{"s":"M6","t":"Non−edges","x":1.5,"y":-0.052},{"s":"M6","t":"Non−edges","x":2.0,"y":-0.03},{"s":"M6","t":"Non−edges","x":2.5,"y":-0.01},{"s":"M6","t":"Non−edges","x":3.0,"y":0.0},{"s":"M6","t":"Non−edges","x":5.63,"y":0.0},
{"s":"M7","t":"Non−edges","x":0.073,"y":-0.01},{"s":"M7","t":"Non−edges","x":0.2,"y":-0.03},{"s":"M7","t":"Non−edges","x":0.5,"y":-0.05},{"s":"M7","t":"Non−edges","x":1.0,"y":-0.052},{"s":"M7","t":"Non−edges","x":1.5,"y":-0.04},{"s":"M7","t":"Non−edges","x":2.0,"y":-0.02},{"s":"M7","t":"Non−edges","x":2.5,"y":0.0},{"s":"M7","t":"Non−edges","x":5.63,"y":0.0},
{"s":"M8","t":"Non−edges","x":0.073,"y":0.02},{"s":"M8","t":"Non−edges","x":0.2,"y":0.0},{"s":"M8","t":"Non−edges","x":0.5,"y":-0.03},{"s":"M8","t":"Non−edges","x":1.0,"y":-0.04},{"s":"M8","t":"Non−edges","x":1.5,"y":-0.03},{"s":"M8","t":"Non−edges","x":2.0,"y":-0.012},{"s":"M8","t":"Non−edges","x":2.5,"y":0.0},{"s":"M8","t":"Non−edges","x":5.63,"y":0.0},
{"s":"M9","t":"Non−edges","x":0.073,"y":-0.08},{"s":"M9","t":"Non−edges","x":0.2,"y":-0.06},{"s":"M9","t":"Non−edges","x":0.5,"y":-0.04},{"s":"M9","t":"Non−edges","x":1.0,"y":-0.02},{"s":"M9","t":"Non−edges","x":1.5,"y":-0.004},{"s":"M9","t":"Non−edges","x":2.0,"y":0.0},{"s":"M9","t":"Non−edges","x":5.63,"y":0.0}
],
"refH": [{"y": 0.5}, {"y": 0.0}]
},
"resolve": {"scale": {"x": "independent", "y": "independent", "color": "independent", "strokeDash": "independent"}, "legend": {"color": "independent", "strokeDash": "independent"}},
"hconcat": [
{
  "width": 357, "height": 237,
  "title": "EMGS",
  "encoding": {
    "x": {"field": "x", "type": "quantitative", "scale": {"domain": [-0.02, 0.52], "nice": false, "zero": false}, "axis": {"values": [0, 0.1, 0.2, 0.3, 0.4, 0.5], "format": ".1f", "title": "v0"}},
    "y": {"field": "y", "type": "quantitative", "scale": {"domain": [-0.338, 0.676], "nice": false, "zero": false}, "axis": {"values": [-0.2, 0, 0.2, 0.4, 0.6], "format": ".1f", "title": "− Partial correlation"}}
  },
  "layer": [
    {"data": {"name": "emgs"}, "transform": [{"filter": {"field": "t", "equal": "Edges"}}], "mark": {"type": "line", "strokeWidth": 1.2, "clip": true},
     "encoding": {"detail": {"field": "s"},
       "color": {"field": "t", "type": "nominal", "title": null, "scale": {"domain": ["Edges", "Non−edges"], "range": ["#00008B", "#006400"]}},
       "strokeDash": {"field": "t", "type": "nominal", "title": null, "scale": {"domain": ["Edges", "Non−edges"], "range": [[1, 0], [1.5, 3.5, 5, 3.5]]}}}},
    {"data": {"name": "emgs"}, "transform": [{"filter": {"field": "t", "equal": "Non−edges"}}], "mark": {"type": "line", "strokeWidth": 1.2, "clip": true},
     "encoding": {"detail": {"field": "s"},
       "color": {"field": "t", "type": "nominal", "title": null, "scale": {"domain": ["Edges", "Non−edges"], "range": ["#00008B", "#006400"]}},
       "strokeDash": {"field": "t", "type": "nominal", "title": null, "scale": {"domain": ["Edges", "Non−edges"], "range": [[1, 0], [1.5, 3.5, 5, 3.5]]}}}},
    {"data": {"name": "refH"}, "mark": {"type": "rule", "color": "#FF0000", "strokeDash": [5, 5], "strokeWidth": 1.2}, "encoding": {"y": {"field": "y", "type": "quantitative"}}},
    {"data": {"values": [{"x": 0.04}]}, "mark": {"type": "rule", "color": "black", "strokeDash": [1.5, 3.5, 5, 3.5], "strokeWidth": 1.1}, "encoding": {"x": {"field": "x", "type": "quantitative"}}}
  ]
},
{
  "width": 357, "height": 237,
  "title": "Graphical Lasso",
  "encoding": {
    "x": {"field": "x", "type": "quantitative", "scale": {"domain": [-0.17, 5.84], "nice": false, "zero": false}, "axis": {"values": [0, 1, 2, 3, 4, 5], "format": "d", "title": "rho"}},
    "y": {"field": "y", "type": "quantitative", "scale": {"domain": [-0.338, 0.676], "nice": false, "zero": false}, "axis": {"values": [-0.2, 0, 0.2, 0.4, 0.6], "format": ".1f", "title": "− Partial correlation"}}
  },
  "layer": [
    {"data": {"name": "glasso"}, "transform": [{"filter": {"field": "t", "equal": "Edges"}}], "mark": {"type": "line", "strokeWidth": 1.2, "interpolate": "monotone", "clip": true},
     "encoding": {"detail": {"field": "s"},
       "color": {"field": "t", "type": "nominal", "title": null, "scale": {"domain": ["Edges", "Non−edges"], "range": ["#00008B", "#006400"]}},
       "strokeDash": {"field": "t", "type": "nominal", "title": null, "scale": {"domain": ["Edges", "Non−edges"], "range": [[1, 0], [1.5, 3.5, 5, 3.5]]}}}},
    {"data": {"name": "glasso"}, "transform": [{"filter": {"field": "t", "equal": "Non−edges"}}], "mark": {"type": "line", "strokeWidth": 1.2, "interpolate": "monotone", "clip": true},
     "encoding": {"detail": {"field": "s"},
       "color": {"field": "t", "type": "nominal", "title": null, "scale": {"domain": ["Edges", "Non−edges"], "range": ["#00008B", "#006400"]}},
       "strokeDash": {"field": "t", "type": "nominal", "title": null, "scale": {"domain": ["Edges", "Non−edges"], "range": [[1, 0], [1.5, 3.5, 5, 3.5]]}}}},
    {"data": {"name": "refH"}, "mark": {"type": "rule", "color": "#FF0000", "strokeDash": [5, 5], "strokeWidth": 1.2}, "encoding": {"y": {"field": "y", "type": "quantitative"}}},
    {"data": {"values": [{"x": 0.06}]}, "mark": {"type": "rule", "color": "black", "strokeDash": [1.5, 3.5, 5, 3.5], "strokeWidth": 1.1}, "encoding": {"x": {"field": "x", "type": "quantitative"}}}
  ]
}
]
}
